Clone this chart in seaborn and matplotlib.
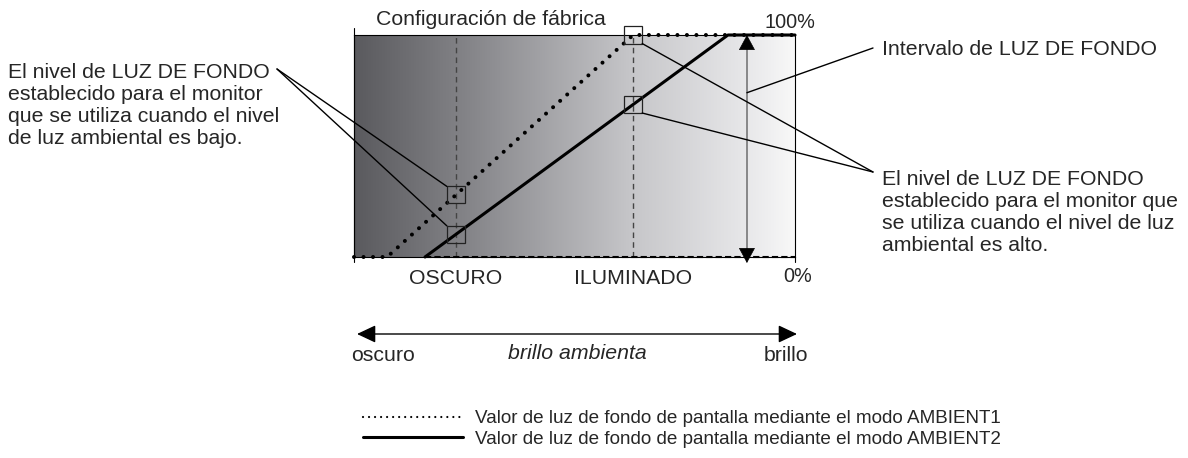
import numpy as np
import pandas as pd
import seaborn as sns
import matplotlib.pyplot as plt
from matplotlib.colors import LinearSegmentedColormap
from matplotlib.lines import Line2D
from matplotlib.patches import Rectangle

# ambient brightness (0 = dark, 100 = bright) vs backlight level (%)
level_names = ['OSCURO', 'ILUMINADO']
level_pos = [23.1, 63.3]
ambient1_x = [0, 7.5, 63.3, 100]
ambient1_y = [0, 0, 100, 100]
ambient2_x = [16.1, 84.8, 100]
ambient2_y = [0, 100, 100]
interval_x = 89.1
legend_labels = ['Valor de luz de fondo de pantalla mediante el modo AMBIENT1',
                 'Valor de luz de fondo de pantalla mediante el modo AMBIENT2']

df1 = pd.DataFrame({'ambient': ambient1_x, 'backlight': ambient1_y})
df2 = pd.DataFrame({'ambient': ambient2_x, 'backlight': ambient2_y})

sns.set_style('white')
plt.rcParams['font.family'] = ['Liberation Sans', 'DejaVu Sans']
FS = 15.3
LFS = 13.6
DOTS = (0, (0.01, 2.35))

W, H = 1188, 458
fig = plt.figure(figsize=(W / 100, H / 100), dpi=100)
ax = fig.add_axes([354 / W, 1 - 257 / H, 441 / W, 222 / H])
ov = fig.add_axes([0, 0, 1, 1], zorder=5)
ov.set_xlim(0, W)
ov.set_ylim(H, 0)
ov.axis('off')
ov.patch.set_alpha(0)

# background gradient
cmap = LinearSegmentedColormap.from_list(
    'amb', [(0, '#5a5a5e'), (0.25, '#838387'), (0.63, '#c6c6c9'),
            (0.88, '#e6e6e8'), (1, '#f8f8f8')])
ax.imshow(np.linspace(0, 1, 256)[None, :], cmap=cmap, extent=(0, 100, 0, 100),
          aspect='auto', zorder=0)

for p in level_pos:
    ax.axvline(p, color='#444444', lw=1, ls=(0, (4, 3)), zorder=1)

# minimum level and interval arrow
ax.plot([ambient2_x[0], 100], [0, 0], color='black', lw=1.5, ls=(0, (3, 1.5)),
        clip_on=False, zorder=2)
ax.plot([interval_x, interval_x], [3, 97], color='#777777', lw=1.2, zorder=2)
head = dict(arrowstyle='-|>,head_length=1.0,head_width=0.54', mutation_scale=10,
            color='black', lw=0.5, shrinkA=0, shrinkB=0)
ax.annotate('', xy=(interval_x, 100), xytext=(interval_x, 94), arrowprops=head,
            annotation_clip=False)
ax.annotate('', xy=(interval_x, -2.7), xytext=(interval_x, 3.6), arrowprops=head,
            annotation_clip=False)

sns.lineplot(data=df1, x='ambient', y='backlight', ax=ax, color='black', lw=2.9,
             linestyle=DOTS, dash_capstyle='round', clip_on=False, zorder=3)
sns.lineplot(data=df2, x='ambient', y='backlight', ax=ax, color='black', lw=2.2,
             clip_on=False, zorder=3)

ax.set_xlim(0, 100)
ax.set_ylim(0, 100)
ax.set_xlabel('')
ax.set_ylabel('')
ax.set_xticks(level_pos, level_names)
ax.set_yticks([])
ax.tick_params(axis='x', length=0, pad=9, labelsize=FS)
for s in ax.spines.values():
    s.set_color('black')
    s.set_linewidth(0.8)
ax.plot([0, 0], [-2.3, 103.2], color='black', lw=0.8, clip_on=False)
ax.plot([100, 100], [-2.3, 0], color='black', lw=0.8, clip_on=False)

# marker boxes
bw, bh = 4.1, 7.7
box_lo = []
box_hi = []
for p in level_pos:
    for xs, ys, store in ((ambient1_x, ambient1_y, box_lo), (ambient2_x, ambient2_y, box_hi)):
        v = np.interp(p, xs, ys)
        ax.add_patch(Rectangle((p - bw / 2, v - bh / 2), bw, bh, fill=False,
                               edgecolor='#222222', lw=0.9, zorder=4, clip_on=False))
        store.append(v)

lead = dict(arrowstyle='-', color='black', lw=1, shrinkA=0, shrinkB=0)
# low ambient -> boxes at OSCURO (upper-left corners)
for v in (box_lo[0], box_hi[0]):
    ov.annotate('', xy=(level_pos[0] - bw / 2, v + bh / 2), xycoords=ax.transData,
                xytext=(277, 69), textcoords='data', arrowprops=lead)
# high ambient -> boxes at ILUMINADO (lower-right corners)
for v in (box_lo[1], box_hi[1]):
    ov.annotate('', xy=(level_pos[1] + bw / 2, v - bh / 2), xycoords=ax.transData,
                xytext=(873, 172), textcoords='data', arrowprops=lead)
ov.annotate('', xy=(interval_x, 74), xycoords=ax.transData,
            xytext=(873, 48), textcoords='data', arrowprops=lead)

ov.text(8, 63, 'El nivel de LUZ DE FONDO\nestablecido para el monitor\n'
        'que se utiliza cuando el nivel\nde luz ambiental es bajo.',
        fontsize=FS, ha='left', va='top')
ov.text(882, 170, 'El nivel de LUZ DE FONDO\nestablecido para el monitor que\n'
        'se utiliza cuando el nivel de luz\nambiental es alto.',
        fontsize=FS, ha='left', va='top')
ov.text(882, 55, 'Intervalo de LUZ DE FONDO', fontsize=FS, ha='left', va='baseline')
ov.text(376, 25, 'Configuración de fábrica', fontsize=FS, ha='left', va='baseline')
ov.text(815, 28, '100%', fontsize=FS - 1, ha='right', va='baseline')
ov.text(783, 282, '0%', fontsize=FS - 1, ha='left', va='baseline')

# ambient brightness axis
ov.annotate('', xy=(797, 334), xytext=(357, 334),
            arrowprops=dict(arrowstyle='<|-|>,head_length=1.15,head_width=0.54',
                            mutation_scale=10, color='black', lw=1,
                            shrinkA=0, shrinkB=0))
ov.text(351, 361, 'oscuro', fontsize=FS, ha='left', va='baseline')
ov.text(577, 359, 'brillo ambienta', fontsize=FS, ha='center', va='baseline',
        style='italic')
ov.text(808, 361, 'brillo', fontsize=FS, ha='right', va='baseline')

handles = [Line2D([], [], color='black', lw=1.6, ls=(0, (0.01, 2.7)),
                  dash_capstyle='round'),
           Line2D([], [], color='black', lw=2.2)]
fig.legend(handles, legend_labels, loc='upper left',
           bbox_to_anchor=(363 / W, 1 - 410 / H), frameon=False, fontsize=LFS,
           handlelength=5.3, handletextpad=0.63, labelspacing=0.18,
           borderpad=0, borderaxespad=0)

fig.savefig('out.png', dpi=100)
